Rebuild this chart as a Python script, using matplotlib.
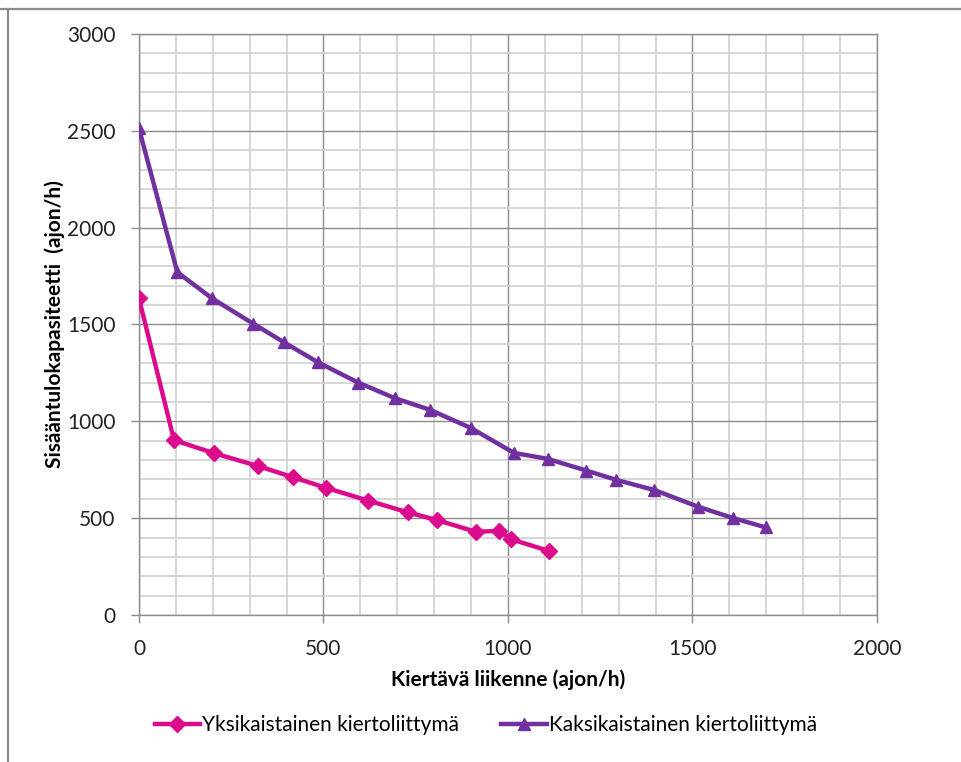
import matplotlib.pyplot as plt
from matplotlib.lines import Line2D
from matplotlib.ticker import MultipleLocator

# Kiertoliittymän sisääntulokapasiteetti kiertävän liikenteen funktiona
x_yksi = [0, 95, 204, 323, 418, 508, 622, 729, 808, 912, 977, 1009, 1112]
y_yksi = [1635, 903, 835, 769, 711, 656, 590, 530, 490, 430, 434, 391, 330]

x_kaksi = [0, 104, 198, 309, 393, 485, 594, 693, 788, 900, 1016, 1108,
           1212, 1293, 1397, 1514, 1611, 1699]
y_kaksi = [2512, 1770, 1635, 1505, 1408, 1305, 1200, 1120, 1060, 965, 837, 806,
           746, 698, 645, 560, 500, 452]

series_names = ["Yksikaistainen kiertoliittymä", "Kaksikaistainen kiertoliittymä"]

plt.rcParams['font.family'] = ['Lato', 'DejaVu Sans']

fig = plt.figure(figsize=(9.61, 7.62), dpi=100)
ax = fig.add_axes([0.1446, 0.1929, 0.768, 0.7625])

ax.plot(x_yksi, y_yksi, color='#DC0A8C', linewidth=3.2, marker='D',
        markersize=8, label=series_names[0], zorder=3)
ax.plot(x_kaksi, y_kaksi, color='#7030A0', linewidth=3.2, marker='^',
        markersize=9, label=series_names[1], zorder=3)

ax.set_xlim(0, 2000)
ax.set_ylim(0, 3000)
ax.xaxis.set_major_locator(MultipleLocator(500))
ax.xaxis.set_minor_locator(MultipleLocator(100))
ax.yaxis.set_major_locator(MultipleLocator(500))
ax.yaxis.set_minor_locator(MultipleLocator(100))

ax.grid(which='minor', color='#cfcfcf', linewidth=1.2)
ax.grid(which='major', color='#8c8c8c', linewidth=1.0)
ax.set_axisbelow(True)

for side in ['left', 'bottom', 'top', 'right']:
    ax.spines[side].set_color('#8c8c8c')
    ax.spines[side].set_linewidth(1.0)

ax.tick_params(which='major', length=6, width=1, color='#8c8c8c',
               labelsize=15, labelcolor='#222222', pad=11)
ax.tick_params(which='minor', length=0)

ax.set_xlabel("Kiertävä liikenne (ajon/h)", fontsize=15, fontweight='bold',
              labelpad=8)
ax.set_ylabel("Sisääntulokapasiteetti  (ajon/h)", fontsize=15,
              fontweight='bold', labelpad=1)

ax.legend(loc='upper center', bbox_to_anchor=(0.47, -0.14), ncol=2,
          frameon=False, fontsize=15, handlelength=2.2, columnspacing=2,
          handletextpad=0.1)

# chart frame lines
fig.add_artist(Line2D([0, 1], [0.988, 0.988], color='#8c8c8c', linewidth=1.6,
                      transform=fig.transFigure))
fig.add_artist(Line2D([0.0085, 0.0085], [0, 0.988], color='#8c8c8c',
                      linewidth=1.6, transform=fig.transFigure))

fig.savefig('out.png', dpi=100)
